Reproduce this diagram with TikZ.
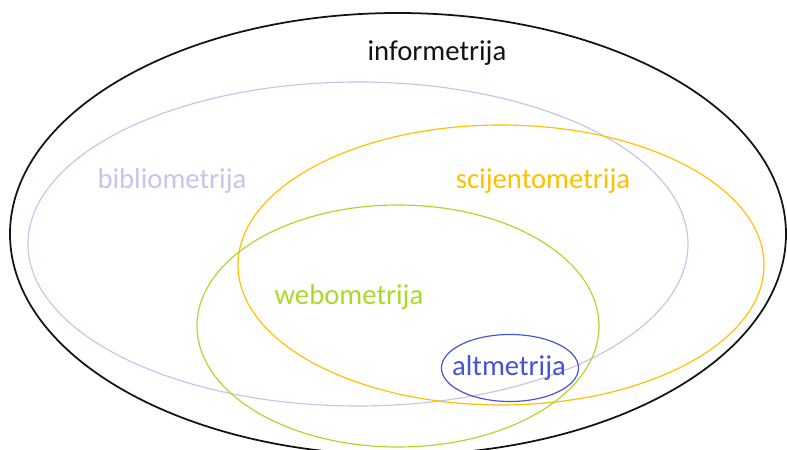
\documentclass[tikz,border=0pt]{standalone}
\usepackage{fontspec}
\setmainfont{Carlito}
\usetikzlibrary{shapes.geometric}

\definecolor{setblack}{RGB}{20,20,20}
\definecolor{setlav}{RGB}{200,196,236}
\definecolor{setorange}{RGB}{255,192,0}
\definecolor{setgreen}{RGB}{170,218,40}
\definecolor{setblue}{RGB}{68,84,214}

\tikzset{
  set/.style={ellipse, draw, inner sep=0pt, line width=1pt},
  setname/.style={font=\fontsize{24.5}{28}\selectfont, inner sep=0pt}
}

\begin{document}
\begin{tikzpicture}[x=0.3mm, y=-0.3mm]
    \useasboundingbox (0,0) rectangle (787,450);
    \fill[white] (0,0) rectangle (787,450);
    % sets
    \node[set, setblack, line width=1.5pt, minimum width=776*0.3mm, minimum height=442*0.3mm] (s info) at (398,234) {};
    \node[set, setlav, minimum width=660*0.3mm, minimum height=324*0.3mm] (s biblio) at (358,244) {};
    \node[set, setorange, minimum width=526*0.3mm, minimum height=280*0.3mm] (s scijento) at (501,265) {};
    \node[set, setgreen, minimum width=402*0.3mm, minimum height=242*0.3mm] (s webo) at (398,326) {};
    \node[set, setblue, minimum width=137*0.3mm, minimum height=67*0.3mm] (s alt) at (510,368) {};
    % names
    \node[setname, text=setblack] (n info) at (437,53) {informetrija};
    \node[setname, text=setlav] (n biblio) at (172,181) {bibliometrija};
    \node[setname, text=setorange] (n scijento) at (543,181) {scijentometrija};
    \node[setname, text=setgreen] (n webo) at (349,297) {webometrija};
    \node[setname, text=setblue] (n alt) at (509,368) {altmetrija};
  \end{tikzpicture}
\end{document}
